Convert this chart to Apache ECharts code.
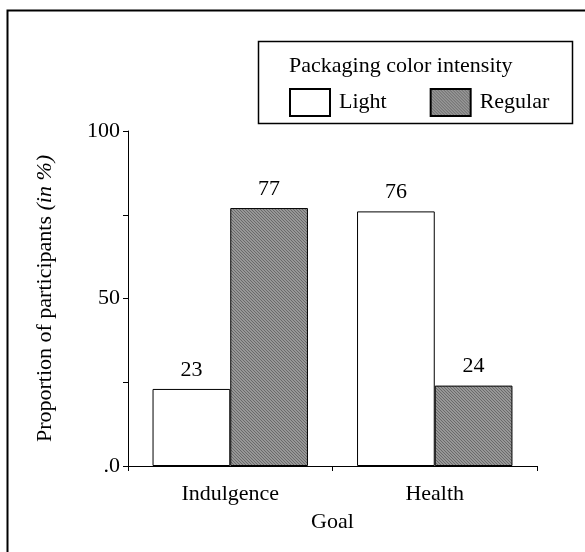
<!DOCTYPE html>
<html><head><meta charset="utf-8">
<script src="https://cdn.jsdelivr.net/npm/echarts@6/dist/echarts.min.js"></script>
<style>html,body{margin:0;padding:0;background:#fff}#c{width:585px;height:552px}</style>
</head><body><div id="c"></div>
<script>
var categories = ['Indulgence', 'Health'];
var lightValues = [23, 76];
var regularValues = [77, 24];
var seriesNames = ['Light', 'Regular'];
var yTickLabels = {0: '.0', 50: '50', 100: '100'};
var legendTitle = 'Packaging color intensity';

var FONT = 'Liberation Serif';
var FS = 22;

// fine hatched pattern for "Regular"
var pc = document.createElement('canvas');
pc.width = 3; pc.height = 3;
var pctx = pc.getContext('2d');
pctx.fillStyle = '#979797';
pctx.fillRect(0, 0, 3, 3);
pctx.fillStyle = '#6a6a6a';
for (var i = 0; i < 3; i++) { pctx.fillRect(i, i, 1, 1); }
var hatch = {image: pc, repeat: 'repeat'};

var chart = echarts.init(document.getElementById('c'));
chart.setOption({
  animation: false,
  backgroundColor: '#fff',
  textStyle: {fontFamily: FONT, color: '#000'},
  grid: {left: 128, right: 48, top: 131, bottom: 86},
  legend: {
    left: 284, top: 83, itemWidth: 40, itemHeight: 27, itemGap: 43,
    data: seriesNames,
    textStyle: {fontFamily: FONT, fontSize: FS, color: '#000', padding: [0, 0, 0, 4]},
    icon: 'rect', selectedMode: false
  },
  xAxis: {
    type: 'category', data: categories,
    axisLine: {lineStyle: {color: '#000', width: 1}},
    axisTick: {show: true, length: 5, lineStyle: {color: '#000'}},
    axisLabel: {fontFamily: FONT, fontSize: FS, color: '#000', margin: 17},
    name: 'Goal', nameLocation: 'middle', nameGap: 45,
    nameTextStyle: {fontFamily: FONT, fontSize: FS, color: '#000'}
  },
  yAxis: {
    type: 'value', min: 0, max: 100, interval: 25,
    axisLine: {show: true, lineStyle: {color: '#000', width: 1}},
    axisTick: {show: true, length: 5, lineStyle: {color: '#000'}},
    splitLine: {show: false},
    axisLabel: {fontFamily: FONT, fontSize: FS, color: '#000', margin: 8,
      formatter: function (v) { return yTickLabels[v] !== undefined ? yTickLabels[v] : ''; }},
    name: '{n|Proportion of participants }{i|(in %)}', nameLocation: 'middle', nameGap: 72,
    nameTextStyle: {fontFamily: FONT, fontSize: FS, color: '#000',
      rich: {n: {fontFamily: FONT, fontSize: FS, color: '#000'}, i: {fontFamily: FONT, fontSize: FS, fontStyle: 'italic', color: '#000'}}}
  },
  series: [
    {name: seriesNames[0], type: 'bar', data: lightValues, barGap: '0%', barCategoryGap: '24%',
      itemStyle: {color: '#fff', borderColor: '#000', borderWidth: 1},
      label: {show: true, position: 'top', distance: 8, fontFamily: FONT, fontSize: FS, color: '#000'}},
    {name: seriesNames[1], type: 'bar', data: regularValues, barGap: '0%', barCategoryGap: '24%',
      itemStyle: {color: hatch, borderColor: '#000', borderWidth: 1},
      label: {show: true, position: 'top', distance: 8, fontFamily: FONT, fontSize: FS, color: '#000'}}
  ],
  graphic: [
    {type: 'polyline', shape: {points: [[7.5, 552], [7.5, 10.5], [585, 10.5]]}, style: {stroke: '#000', lineWidth: 2, fill: null}},
    {type: 'rect', shape: {x: 258.5, y: 41.5, width: 314, height: 82}, style: {stroke: '#000', lineWidth: 1.5, fill: null}, z: -1},
    {type: 'text', left: 289, top: 55, style: {text: legendTitle, font: FS + 'px "' + FONT + '"', fill: '#000'}}
  ]
});
</script></body></html>
